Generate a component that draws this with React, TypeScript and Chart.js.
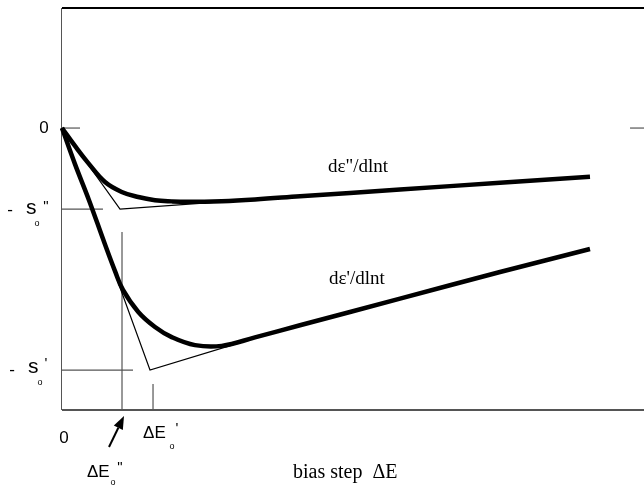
import React, { useEffect, useRef } from "react";
import { Chart, registerables } from "chart.js";

Chart.register(...registerables);

// dε''/dlnt curve (loss)
const lossX = [0, 0.223, 0.452, 0.739, 1.026, 1.311, 1.598, 1.885, 2.165, 2.744, 3.316, 4.089, 5.808, 7.526, 9.072];
const lossY = [0, -0.074, -0.145, -0.223, -0.264, -0.285, -0.298, -0.303, -0.305, -0.302, -0.295, -0.282, -0.254, -0.226, -0.201];

// dε'/dlnt curve (storage)
const storX = [0, 0.223, 0.464, 0.73, 0.911, 1.048, 1.311, 1.598, 1.885, 2.285, 2.744, 3.316, 4.089, 5.808, 7.526, 9.072];
const storY = [0, -0.149, -0.298, -0.475, -0.591, -0.669, -0.76, -0.822, -0.864, -0.897, -0.9, -0.865, -0.815, -0.705, -0.595, -0.5];

// thin asymptote / tangent constructions
const lossTanX = [0, 0.997, 3.316];
const lossTanY = [0, -0.335, -0.295];
const storTanX = [0, 1.512, 3.316];
const storTanY = [0, -1.0, -0.868];

// characteristic values
const S_PP = -0.335; // -s0''
const S_P = -1.0; // -s0'
const DE_PP = 1.031; // ΔE0''
const DE_P = 1.564; // ΔE0'

const X_MIN = 0;
const X_MAX = 10;
const Y_MIN = -1.165;
const Y_MAX = 0.496;

const zip = (xs: number[], ys: number[]) => xs.map((x, i) => ({ x, y: ys[i] }));

const GRAY = "#555555";
const SANS = "'Liberation Sans', Arial, sans-serif";
const SERIF = "'Liberation Serif', 'Times New Roman', serif";

const framePlugin = {
  id: "frame",
  beforeDatasetsDraw(chart: any) {
    const { ctx, chartArea } = chart;
    const { left, right, top, bottom } = chartArea;
    ctx.save();
    ctx.strokeStyle = "#000";
    ctx.lineWidth = 2;
    ctx.beginPath();
    ctx.moveTo(left, top);
    ctx.lineTo(right, top);
    ctx.stroke();
    ctx.strokeStyle = GRAY;
    ctx.lineWidth = 1;
    ctx.beginPath();
    ctx.moveTo(left - 0.5, top);
    ctx.lineTo(left - 0.5, bottom);
    ctx.stroke();
    ctx.lineWidth = 2;
    ctx.beginPath();
    ctx.moveTo(left, bottom);
    ctx.lineTo(right, bottom);
    ctx.stroke();
    ctx.restore();
  },
};

const labelPlugin = {
  id: "labels",
  afterDraw(chart: any) {
    const { ctx, chartArea, scales } = chart;
    const xs = scales.x;
    const ys = scales.y;
    const { left, bottom } = chartArea;
    const txt = (s: string, x: number, y: number, font: string, align = "left", base = "middle") => {
      ctx.font = font;
      ctx.textAlign = align;
      ctx.textBaseline = base;
      ctx.fillStyle = "#000";
      ctx.fillText(s, x, y);
    };
    ctx.save();
    const f17 = `17px ${SANS}`;
    const fs = `21px ${SANS}`;
    const fsub = `9px ${SANS}`;
    const fpr = `15px ${SANS}`;

    // y-axis labels
    const y0 = ys.getPixelForValue(0);
    txt("0", left - 18, y0, f17, "center");
    const ypp = ys.getPixelForValue(S_PP);
    txt("-", left - 52, ypp + 1, f17, "center");
    txt("s", left - 36, ypp - 1, fs, "left");
    txt("o", left - 25, ypp + 14, fsub, "center");
    txt('"', left - 16, ypp - 2, fpr, "center");
    const yp = ys.getPixelForValue(S_P);
    txt("-", left - 50, yp, f17, "center");
    txt("s", left - 34, yp - 3, fs, "left");
    txt("o", left - 22, yp + 12, fsub, "center");
    txt("'", left - 16, yp - 6, fpr, "center");

    // x-axis labels
    txt("0", xs.getPixelForValue(0) + 2, bottom + 28, f17, "center");
    const xp = xs.getPixelForValue(DE_P);
    txt("ΔE", xp - 10, bottom + 23, f17, "left");
    txt("o", xp + 19, bottom + 37, fsub, "center");
    txt("'", xp + 24, bottom + 19, fpr, "center");
    const xpp = xs.getPixelForValue(DE_PP);
    txt("ΔE", xpp - 35, bottom + 62, f17, "left");
    txt("o", xpp - 9, bottom + 73, fsub, "center");
    txt('"', xpp - 2, bottom + 58, fpr, "center");

    // arrow pointing to ΔE0''
    const tipX = xpp + 2;
    const tipY = bottom + 6;
    const tailX = xpp - 13;
    const tailY = bottom + 37;
    const dx = tipX - tailX;
    const dy = tipY - tailY;
    const len = Math.hypot(dx, dy);
    const ux = dx / len;
    const uy = dy / len;
    const hl = 13;
    const hw = 5;
    const bx = tipX - ux * hl;
    const by = tipY - uy * hl;
    ctx.strokeStyle = "#000";
    ctx.lineWidth = 2;
    ctx.beginPath();
    ctx.moveTo(tailX, tailY);
    ctx.lineTo(bx, by);
    ctx.stroke();
    ctx.fillStyle = "#000";
    ctx.beginPath();
    ctx.moveTo(tipX, tipY);
    ctx.lineTo(bx - uy * hw, by + ux * hw);
    ctx.lineTo(bx + uy * hw, by - ux * hw);
    ctx.closePath();
    ctx.fill();

    // axis title
    txt("bias step  ΔE", left + 231, bottom + 68, `20px ${SERIF}`, "left", "alphabetic");

    // curve labels
    txt('dε"/dlnt', left + 266, 172, `19px ${SERIF}`, "left", "alphabetic");
    txt("dε'/dlnt", left + 267, 284, `19px ${SERIF}`, "left", "alphabetic");
    ctx.restore();
  },
};

export default function App() {
  const ref = useRef<HTMLCanvasElement | null>(null);

  useEffect(() => {
    document.body.style.margin = "0";
    if (!ref.current) return;
    const thinGray = { borderColor: GRAY, borderWidth: 1.2, tension: 0, clip: false as any };
    const chart = new Chart(ref.current, {
      type: "line",
      data: {
        datasets: [
          {
            label: "dε''/dlnt",
            data: zip(lossX, lossY),
            borderColor: "#000",
            borderWidth: 4.5,
            tension: 0.4,
            clip: false as any,
          },
          {
            label: "dε'/dlnt",
            data: zip(storX, storY),
            borderColor: "#000",
            borderWidth: 4.5,
            tension: 0.4,
            clip: false as any,
          },
          { label: "tan''", data: zip(lossTanX, lossTanY), borderColor: "#000", borderWidth: 1.2, tension: 0 },
          { label: "tan'", data: zip(storTanX, storTanY), borderColor: "#000", borderWidth: 1.2, tension: 0 },
          { label: "s0''", data: [{ x: 0, y: S_PP }, { x: 0.704, y: S_PP }], ...thinGray },
          { label: "s0'", data: [{ x: 0, y: S_P }, { x: 1.22, y: S_P }], ...thinGray },
          { label: "ΔE0''", data: [{ x: DE_PP, y: -0.43 }, { x: DE_PP, y: Y_MIN }], ...thinGray },
          { label: "ΔE0'", data: [{ x: DE_P, y: -1.058 }, { x: DE_P, y: Y_MIN }], ...thinGray },
          { label: "zero-l", data: [{ x: 0, y: 0 }, { x: 0.31, y: 0 }], ...thinGray },
          { label: "zero-r", data: [{ x: 9.76, y: 0 }, { x: X_MAX, y: 0 }], ...thinGray },
        ],
      },
      options: {
        animation: false,
        responsive: false,
        devicePixelRatio: 1,
        layout: { padding: { left: 62, top: 8, right: 0, bottom: 75 } },
        elements: { point: { radius: 0, hoverRadius: 0 }, line: { borderCapStyle: "butt", capBezierPoints: false } },
        scales: {
          x: { type: "linear", min: X_MIN, max: X_MAX, display: false },
          y: { type: "linear", min: Y_MIN, max: Y_MAX, display: false },
        },
        plugins: { legend: { display: false }, tooltip: { enabled: false } },
      },
      plugins: [framePlugin, labelPlugin],
    });
    return () => chart.destroy();
  }, []);

  return (
    <div style={{ width: 644, height: 485, background: "#fff" }}>
      <canvas ref={ref} width={644} height={485} style={{ display: "block" }} />
    </div>
  );
}
